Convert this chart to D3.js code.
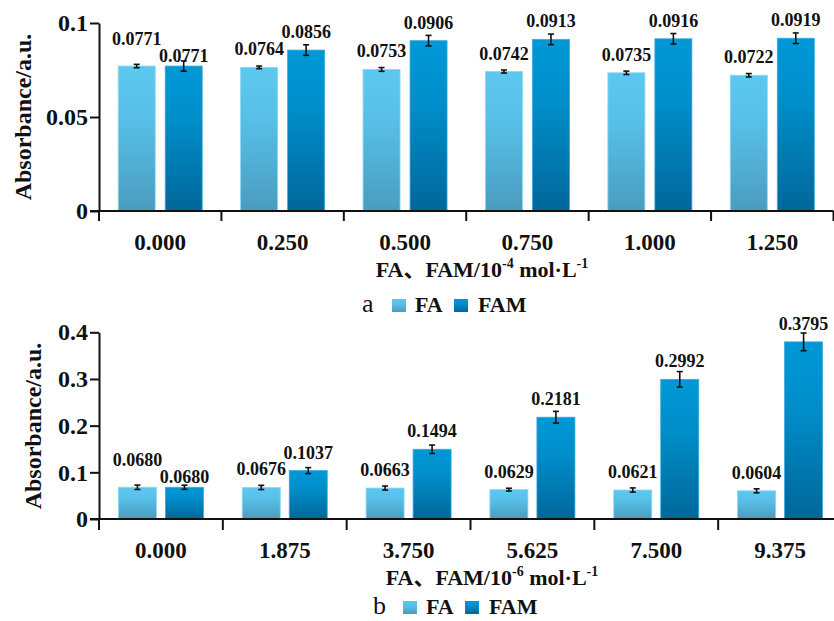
<!DOCTYPE html>
<html><head><meta charset="utf-8">
<script src="https://cdn.jsdelivr.net/npm/d3@7"></script>
<style>
html,body{margin:0;padding:0;background:#fff;}
svg{display:block;}
text{font-family:"Liberation Serif","Times New Roman","Noto Sans CJK SC",serif;fill:#111;}
</style></head>
<body>
<svg id="chart" width="834" height="621"></svg>
<script>
// ---- data ----
const categoriesA = ["0.000","0.250","0.500","0.750","1.000","1.250"];
const faA     = [0.0771,0.0764,0.0753,0.0742,0.0735,0.0722];
const famA    = [0.0771,0.0856,0.0906,0.0913,0.0916,0.0919];
const faErrA  = [0.0009,0.0007,0.0010,0.0008,0.0009,0.0009];
const famErrA = [0.0027,0.0028,0.0028,0.0028,0.0028,0.0028];
const yTicksA = [0, 0.05, 0.1];

const categoriesB = ["0.000","1.875","3.750","5.625","7.500","9.375"];
const faB     = [0.0680,0.0676,0.0663,0.0629,0.0621,0.0604];
const famB    = [0.0680,0.1037,0.1494,0.2181,0.2992,0.3795];
const faErrB  = [0.0047,0.0045,0.0043,0.0030,0.0045,0.0043];
const famErrB = [0.0045,0.0064,0.0090,0.0125,0.0167,0.0190];
const yTicksB = [0, 0.1, 0.2, 0.3, 0.4];

const seriesNames = ["FA","FAM"];

// ---- drawing ----
const svg = d3.select("#chart");
const defs = svg.append("defs");
function grad(id, stops){
  const g = defs.append("linearGradient").attr("id",id)
    .attr("x1",0).attr("y1",0).attr("x2",0).attr("y2",1);
  stops.forEach(s=>g.append("stop").attr("offset",s[0]).attr("stop-color",s[1]));
}
grad("gFA",  [[0,"#5cc8f0"],[0.35,"#58c0e8"],[1,"#4a9cbf"]]);
grad("gFAM", [[0,"#0098d7"],[0.35,"#008fcb"],[1,"#00679a"]]);
const fills = ["url(#gFA)","url(#gFAM)"];
const strokes = ["#8ad6f4","#3aa9dc"];

function panel(o){
  const g = svg.append("g");
  const y = d3.scaleLinear().domain(o.yDomain).range([o.y0, o.y1]);
  const x = d3.scaleBand().domain(o.cats).range([o.x0, o.x1]).padding(0);
  const bw = o.barW, gap = o.gap;

  // bars
  const vals = [o.fa, o.fam], errs = [o.faErr, o.famErr];
  [0,1].forEach(s=>{
    const cx = c => x(c) + x.bandwidth()/2 + (s===0 ? -(gap/2+bw) : gap/2);
    g.append("g").selectAll("rect").data(o.cats).join("rect")
      .attr("x", c=>cx(c))
      .attr("y", (c,i)=>y(vals[s][i]))
      .attr("width", bw)
      .attr("height", (c,i)=>y(0)-y(vals[s][i]))
      .attr("fill", fills[s])
      .attr("stroke", strokes[s]).attr("stroke-width",0.8);
    // error bars
    const eg = g.append("g").attr("stroke","#111").attr("stroke-width",1.6);
    o.cats.forEach((c,i)=>{
      const mx = cx(c)+bw/2;
      const yt = y(vals[s][i]+errs[s][i]), yb = y(vals[s][i]-errs[s][i]);
      eg.append("line").attr("x1",mx).attr("x2",mx).attr("y1",yt).attr("y2",yb);
      eg.append("line").attr("x1",mx-3).attr("x2",mx+3).attr("y1",yt).attr("y2",yt);
      eg.append("line").attr("x1",mx-3).attr("x2",mx+3).attr("y1",yb).attr("y2",yb);
    });
    // value labels
    g.append("g").selectAll("text").data(o.cats).join("text")
      .attr("x", c=>cx(c)+bw/2)
      .attr("y", (c,i)=>{
        const same = o.fa[i]===o.fam[i];
        const off = same ? (s===0 ? 21 : 4.5) : 12;
        return y(vals[s][i]) - off;
      })
      .attr("text-anchor","middle")
      .attr("font-size",18).attr("font-weight","bold")
      .text((c,i)=>vals[s][i].toFixed(4));
  });

  // y axis
  const ya = g.append("g").attr("transform",`translate(${o.x0},0)`)
    .call(d3.axisLeft(y).tickValues(o.yTicks).tickSize(9).tickSizeOuter(0).tickPadding(2)
      .tickFormat(d=>String(+d.toFixed(2))));
  ya.selectAll("path,line").attr("stroke","#111").attr("stroke-width",2);
  ya.selectAll("text").attr("font-size",24).attr("font-weight","bold")
    .attr("font-family",'"Liberation Serif","Times New Roman",serif').attr("fill","#111");

  // x axis line + ticks at band boundaries
  g.append("line").attr("x1",o.x0-9).attr("x2",o.x1).attr("y1",y(0)).attr("y2",y(0))
    .attr("stroke","#111").attr("stroke-width",2.2);
  const bounds = o.cats.map(c=>x(c)).concat([o.x1]);
  g.append("g").selectAll("line").data(bounds).join("line")
    .attr("x1",d=>d).attr("x2",d=>d).attr("y1",y(0)).attr("y2",y(0)+o.tickLen)
    .attr("stroke","#111").attr("stroke-width",2);
  g.append("g").selectAll("text").data(o.cats).join("text")
    .attr("x",c=>x(c)+x.bandwidth()/2).attr("y",y(0)+39)
    .attr("text-anchor","middle").attr("font-size",23).attr("font-weight","bold")
    .text(c=>c);

  // y title
  g.append("text").attr("transform",`translate(${o.yTitleX},${o.yTitleY}) rotate(-90)`)
    .attr("text-anchor","middle").attr("font-size",24).attr("font-weight","bold")
    .text("Absorbance/a.u.");

  // x title
  const xt = g.append("text").attr("x",o.xTitleX).attr("y",o.xTitleY)
    .attr("text-anchor","middle").attr("font-size",22).attr("font-weight","bold");
  xt.append("tspan").text("FA、FAM/10");
  xt.append("tspan").attr("font-size",14).attr("dy",-9).text(o.exp);
  xt.append("tspan").attr("dy",9).text(" mol·L");
  xt.append("tspan").attr("font-size",14).attr("dy",-9).text("-1");

  // legend
  const lg = g.append("g");
  lg.append("text").attr("x",o.legX).attr("y",o.legY).attr("font-size",26).text(o.tag);
  const sqX = [o.legX+30, o.legX+92], txX = [o.legX+53, o.legX+116];
  [0,1].forEach(s=>{
    lg.append("rect").attr("x",sqX[s]).attr("y",o.legY-13).attr("width",14).attr("height",13)
      .attr("fill",fills[s]);
    lg.append("text").attr("x",txX[s]).attr("y",o.legY).attr("font-size",22)
      .attr("font-weight","bold").text(seriesNames[s]);
  });
}

panel({cats:categoriesA, fa:faA, fam:famA, faErr:faErrA, famErr:famErrA,
  yDomain:[0,0.1], yTicks:yTicksA, y0:211, y1:23, x0:99, x1:833.5, barW:37, gap:10, tickLen:10,
  yTitleX:31, yTitleY:117, xTitleX:482, xTitleY:277, exp:"-4", tag:"a", legX:362, legY:312});

panel({cats:categoriesB, fa:faB, fam:famB, faErr:faErrB, famErr:famErrB,
  yDomain:[0,0.4], yTicks:yTicksB, y0:519, y1:332.3, x0:99, x1:842, barW:38, gap:9, tickLen:11,
  yTitleX:41, yTitleY:426, xTitleX:492, xTitleY:585, exp:"-6", tag:"b", legX:373, legY:614});
</script>
</body></html>
